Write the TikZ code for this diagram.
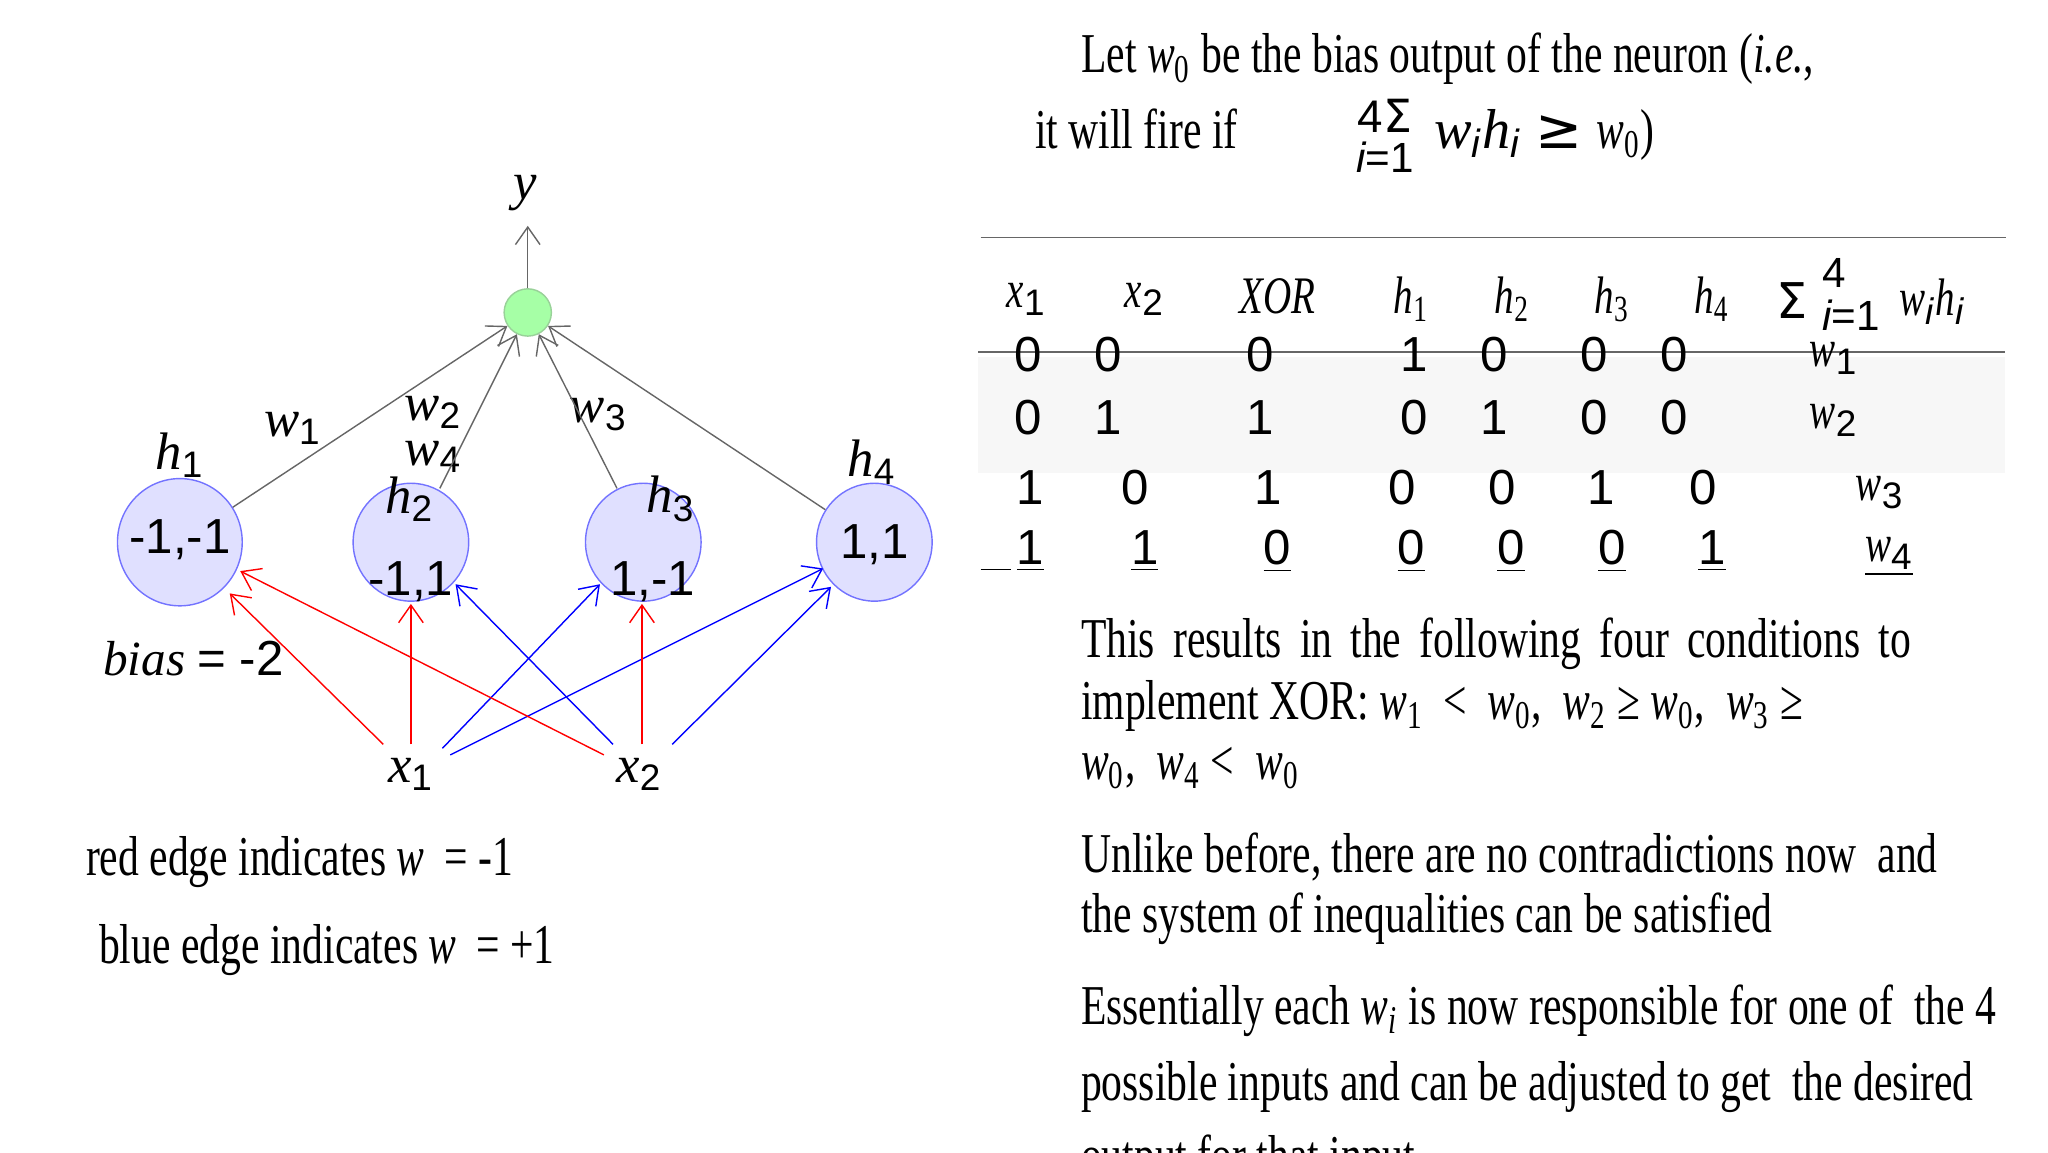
\documentclass[tikz,border=0pt]{standalone}
\usepackage{fontspec}
\usetikzlibrary{arrows.meta}
\setmainfont{Liberation Serif}
\setsansfont{Liberation Sans}
\newfontfamily\cond[FakeStretch=0.74]{Liberation Serif}
\newfontfamily\dsans{DejaVu Sans}
\newcommand\isub[2]{{\itshape #1}\textsubscript{\sffamily #2}}
\newcommand\ssub[2]{{\itshape #1}\textsubscript{#2}}
\begin{document}
\begin{tikzpicture}[x=0.013128cm,y=-0.013128cm,
  hid/.style={circle,draw=blue!55,fill=blue!12,minimum width=88*0.3735pt,inner sep=0pt,yscale=1.02},
  outn/.style={circle,draw=green!55!black!40,fill=green!35,minimum size=36*0.3735pt,inner sep=0pt},
  lbl/.style={font=\fontsize{15}{18}\selectfont},
  nt/.style={font=\sffamily\fontsize{14}{16}\selectfont},
  gedge/.style={draw=black!60,-{Straight Barb[length=5pt,width=7pt]}},
  redge/.style={draw=red,-{Straight Barb[length=5pt,width=7pt]}},
  bedge/.style={draw=blue,-{Straight Barb[length=5pt,width=7pt]}},
  body/.style={anchor=west,font=\cond\fontsize{16}{19}\selectfont,inner sep=0pt},
  td/.style={font=\sffamily\fontsize{14}{17}\selectfont,inner sep=0pt},
  ti/.style={font=\cond\fontsize{15}{17}\selectfont,inner sep=0pt}]
\useasboundingbox (0,0) rectangle (1560,877.5);
% ---------- left network ----------
\node[outn] (o) at (402,238) {};
\coordinate (ytop) at (402,172);
\node[lbl] (y) at (400,147) {\itshape y};
\draw[gedge] (o) -- (ytop);
\node[hid,minimum width=95*0.3735pt] (h1) at (137,413) {};
\node[hid] (h2) at (313,413) {};
\node[hid] (h3) at (490,413) {};
\node[hid] (h4) at (666,413) {};
\node[nt] (t1) at (137,411) {-1,-1};
\node[nt] (t2) at (313,443) {-1,1};
\node[nt] (t3) at (497,443) {1,-1};
\node[nt] (t4) at (666,415) {1,1};
\node[lbl] (lh1) at (137,347) {\isub{h}{1}};
\node[lbl] (lh2) at (312,380) {\isub{h}{2}};
\node[lbl] (lh3) at (511,380) {\isub{h}{3}};
\node[lbl] (lh4) at (664,352) {\isub{h}{4}};
\node[lbl] (lw1) at (223,326) {\isub{w}{1}};
\node[lbl] (lw2) at (330,314) {\isub{w}{2}};
\node[lbl] (lw4) at (330,348) {\isub{w}{4}};
\node[lbl] (lw3) at (456,316) {\isub{w}{3}};
\draw[gedge] (h1) -- (o);
\draw[gedge] (335,372) -- (o);
\draw[gedge] (470,372) -- (o);
\draw[gedge] (h4) -- (o);
\node[lbl] (x1) at (313,590) {\isub{x}{1}};
\node[lbl] (x2) at (487,590) {\isub{x}{2}};
\coordinate (a1) at (292,567); \coordinate (a2) at (313,567);
\coordinate (a3) at (337,570); \coordinate (a4) at (343,575);
\coordinate (b1) at (460,575); \coordinate (b2) at (467,567);
\coordinate (b3) at (489,567); \coordinate (b4) at (512,567);
\draw[redge] (a1) -- (175,452);
\draw[redge] (a2) -- (313,460);
\draw[bedge] (a3) -- (457,445);
\draw[bedge] (a4) -- (627,433);
\draw[redge] (b1) -- (183,435);
\draw[bedge] (b2) -- (347,445);
\draw[redge] (b3) -- (489,460);
\draw[bedge] (b4) -- (633,447);
\node[anchor=west,inner sep=0pt,font=\fontsize{14}{16}\selectfont] (bias) at (78,502) {\itshape bias {\upshape\sffamily = -2}};
\node[body] (red) at (65,657) {red edge indicates \textit{w} \,= -1};
\node[body] (blue) at (75,724) {blue edge indicates \textit{w} \,= +1};
% ---------- right text ----------
\node[body] (let) at (823,45) {Let \ssub{w}{0} be the bias output of the neuron (\textit{i.e.},};
\node[body] (fire) at (788,98) {it will fire if};
\node[font=\sffamily\fontsize{13}{14}\selectfont,inner sep=0pt] (s4) at (1055,88) {4\dsans Σ};
\node[font=\sffamily\itshape\fontsize{12}{14}\selectfont,inner sep=0pt] (si) at (1055,120) {i\upshape=1};
\node[anchor=west,font=\fontsize{16}{18}\selectfont,inner sep=0pt] (swh) at (1092,103) {\isub{w}{\itshape i}\isub{h}{\itshape i} {\dsans ≥} {\cond\ssub{w}{0})}};
\draw[black!60] (747,181) -- (1528,181);
\fill[black!3] (745,272) rectangle (1527,360);
\draw[black!60] (745,268) -- (1527,268);
% header
\node[ti] (hx1) at (782,228) {\isub{x}{1}};
\node[ti] (hx2) at (872,228) {\isub{x}{2}};
\node[ti] (hxor) at (973,226) {\itshape XOR};
\node[ti] (hh1) at (1075,228) {\ssub{h}{1}};
\node[ti] (hh2) at (1152,228) {\ssub{h}{2}};
\node[ti] (hh3) at (1228,228) {\ssub{h}{3}};
\node[ti] (hh4) at (1304,228) {\ssub{h}{4}};
\node[td,font=\dsans\fontsize{14}{16}\selectfont] (hsig) at (1365,229) {Σ};
\node[td,font=\sffamily\fontsize{12}{14}\selectfont] (hs4) at (1397,208) {4};
\node[td,font=\sffamily\fontsize{12}{14}\selectfont] (hsi) at (1410,240) {\itshape i\upshape=1};
\node[ti] (hwh) at (1472,230) {\isub{w}{\itshape i}\isub{h}{\itshape i}};
% rows
\foreach \v/\x in {0/783,0/844,0/960,1/1077,0/1138,0/1214,0/1275}
  \node[td] at (\x,270) {\v};
\node[ti] (w1) at (1397,273) {\isub{w}{1}};
\foreach \v/\x in {0/783,1/844,1/960,0/1077,1/1138,0/1214,0/1275}
  \node[td] at (\x,318) {\v};
\node[ti] (w2) at (1397,320) {\isub{w}{2}};
\foreach \v/\x in {1/785,0/865,1/966,0/1068,0/1144,1/1220,0/1297}
  \node[td] at (\x,371) {\v};
\node[ti] (w3) at (1432,375) {\isub{w}{3}};
\foreach \v/\x in {1/785,1/872,0/973,0/1075,0/1151,0/1228,1/1304}
  \node[td] at (\x,420) {\underline{\v}};
\node[ti] (w4) at (1439,424) {\underline{\isub{w}{4}}};
\draw (747,434) -- (770,434);
% paragraphs
\node[body] (p1) at (823,490) {\makebox[236pt][s]{This results in the following four conditions to}};
\node[body] (p2) at (823,538) {implement XOR: \ssub{w}{1} \,< \ \ssub{w}{0}, \ \ssub{w}{2} ≥ \ssub{w}{0}, \ \ssub{w}{3} ≥};
\node[body] (p3) at (823,585) {\ssub{w}{0}, \ \ssub{w}{4} < \ \ssub{w}{0}};
\node[body] (p4) at (823,653) {Unlike before, there are no contradictions now \ and};
\node[body] (p5) at (823,700) {the system of inequalities can be satisfied};
\node[body] (p6) at (823,770) {Essentially each \ssub{w}{\itshape i} is now responsible for one of \ the 4};
\node[body] (p7) at (823,828) {possible inputs and can be adjusted to get \ the desired};
\node[body] (p8) at (823,884) {output for that input};
\end{tikzpicture}
\end{document}
